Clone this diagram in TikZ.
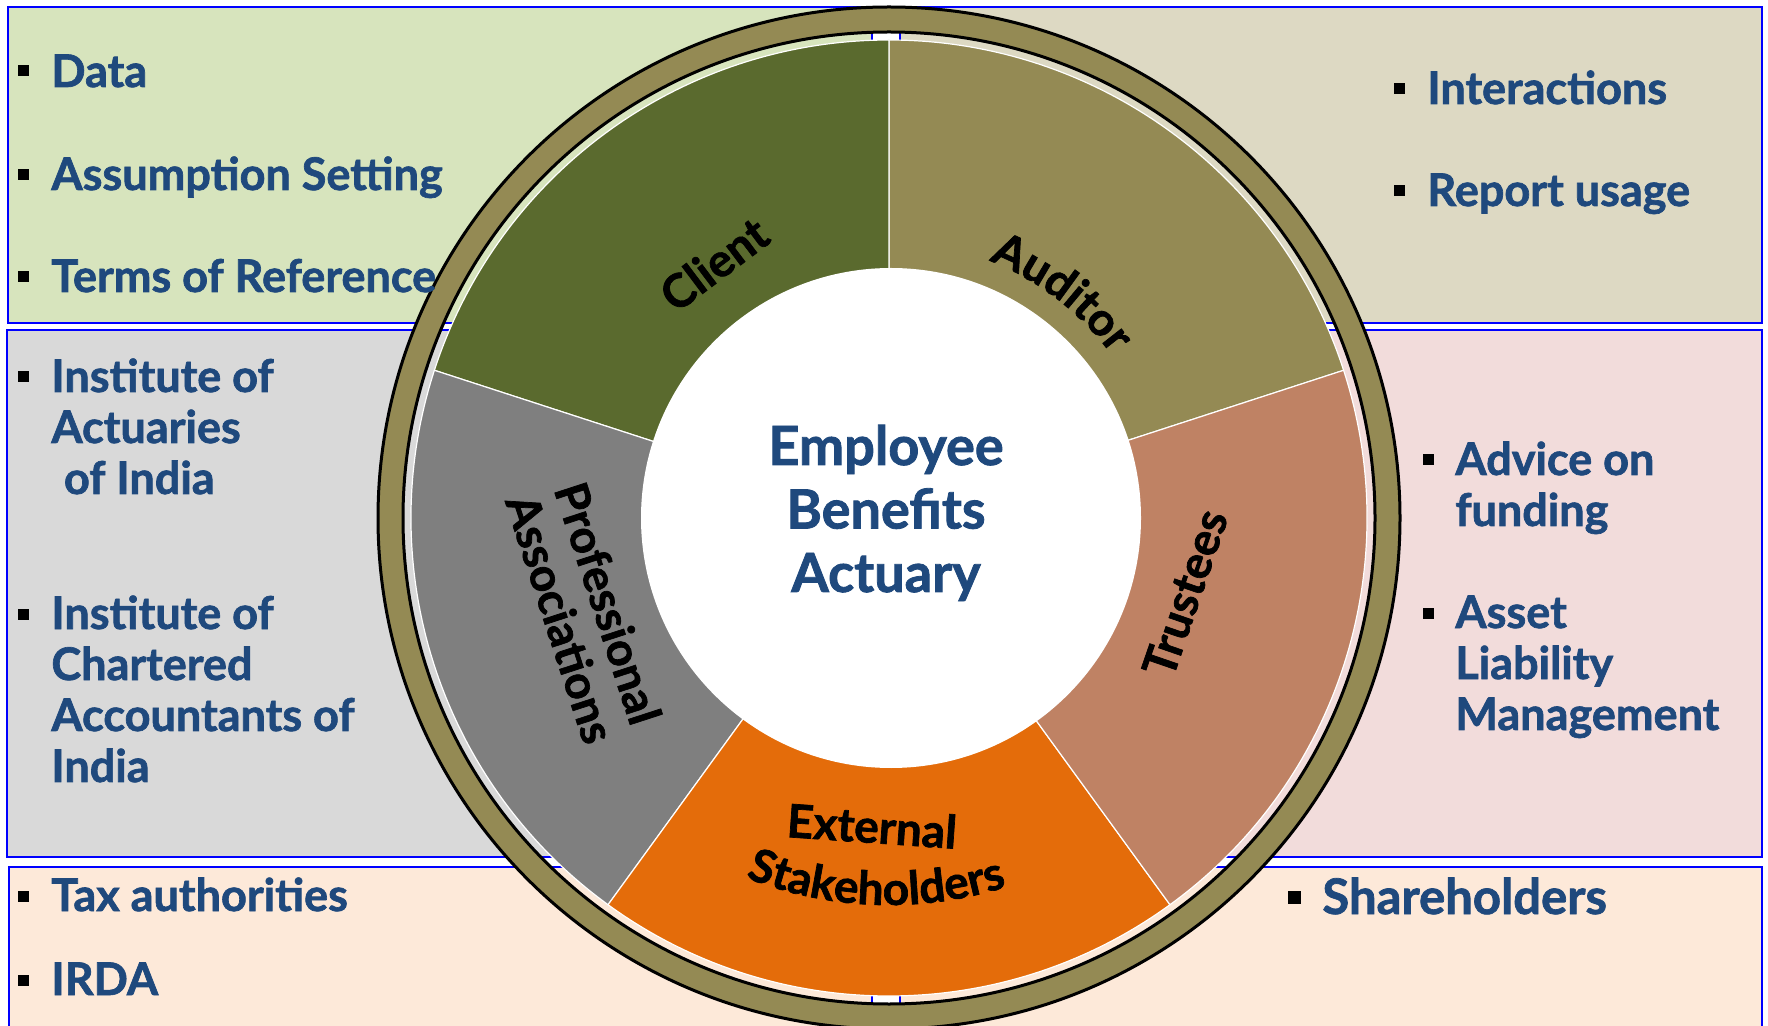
\documentclass[tikz,border=0pt]{standalone}
\usepackage{fontspec}
\setmainfont{Lato}[BoldFeatures={FakeBold=1.5}]
\usetikzlibrary{decorations.text}
\definecolor{bluetxt}{HTML}{1F497D}
\definecolor{boxblue}{HTML}{0000FF}
\definecolor{tlbg}{HTML}{D7E4BD}
\definecolor{trbg}{HTML}{DDD9C3}
\definecolor{mlbg}{HTML}{D9D9D9}
\definecolor{mrbg}{HTML}{F2DCDB}
\definecolor{botbg}{HTML}{FDE9D9}
\definecolor{clientc}{HTML}{5A6A2E}
\definecolor{auditc}{HTML}{948A54}
\definecolor{trustc}{HTML}{BF8264}
\definecolor{extc}{HTML}{E46C0A}
\definecolor{profc}{HTML}{7F7F7F}
\definecolor{ringc}{HTML}{948A54}
\newcommand\stk[2][l]{\begin{tabular}[t]{@{}#1@{}}#2\end{tabular}}
\newcommand\lblfont{\bfseries\fontsize{23}{25}\selectfont}
\begin{document}
\begin{tikzpicture}[x=0.5pt,y=0.5pt,
  box/.style={draw=boxblue, line width=1.2pt},
  sq/.style={fill=black, inner sep=0pt, minimum size=5.5pt, draw=none},
  item/.style={anchor=base west, inner sep=0pt, text=bluetxt, font=\bfseries\fontsize{22.5}{25.5}\selectfont},
  lbl/.style={inner sep=0pt, font=\lblfont, text=black},
  slice/.style={draw=white, line width=0.6pt},
  ringline/.style={draw=black, line width=1.5pt}
]
\clip (0,0) rectangle (1768,-1026);
\fill[white] (0,0) rectangle (1768,-1026);
% background boxes
\filldraw[box, fill=tlbg] (8,-7) rectangle (872,-323);
\filldraw[box, fill=trbg] (900,-7) rectangle (1762,-323);
\filldraw[box, fill=mlbg] (7,-330) rectangle (872,-857);
\filldraw[box, fill=mrbg] (900,-330) rectangle (1762,-857);
\filldraw[box, fill=botbg] (9,-867) rectangle (872,-1060);
\filldraw[box, fill=botbg] (900,-867) rectangle (1762,-1060);
% ring
\coordinate (C) at (889,-518);
\fill[ringc, even odd rule] (C) circle (511) (C) circle (486);
\draw[ringline] (C) circle (511);
\draw[ringline] (C) circle (486);
% slices
\filldraw[slice, fill=auditc] (C) -- ++(18:478) arc (18:90:478) -- cycle;
\filldraw[slice, fill=clientc] (C) -- ++(90:478) arc (90:162:478) -- cycle;
\filldraw[slice, fill=profc] (C) -- ++(162:478) arc (162:234:478) -- cycle;
\filldraw[slice, fill=extc] (C) -- ++(234:478) arc (234:306:478) -- cycle;
\filldraw[slice, fill=trustc] (C) -- ++(306:478) arc (306:378:478) -- cycle;
\fill[white] (891,-518) circle (250);
% centre
\node[anchor=base, inner sep=0pt, text=bluetxt, font=\bfseries\fontsize{27}{31.75}\selectfont] (title) at (886,-465) {\stk[c]{Employee\\Benefits\\Actuary}};
% slice labels
\node[lbl, rotate=37] (client) at (714,-264) {Client};
\path[decorate, decoration={text along path, text align=center, text={|\lblfont|Auditor}}] (C) ++(78:276) arc (78:27:276);
\node[lbl, rotate=71] (trustees) at (1185,-593) {Trustees};
\node[lbl, rotate=-72, align=center] (prof) at (578,-613) {\stk[c]{Professional\\Associations}};
\node[lbl, rotate=-4] (ext) at (872,-826) {External};
\path[decorate, decoration={text along path, text align=center, text={|\lblfont|Stakeholders}}] (C) ++(-122:387) arc (-122:-62:387);
% items top-left
\node[sq] (b1) at (23,-71) {};  \node[item] (t1) at (51,-87) {Data};
\node[sq] (b2) at (23,-175) {}; \node[item] (t2) at (51,-190) {Assumption Setting};
\node[sq] (b3) at (23,-277) {}; \node[item] (t3) at (51,-292) {Terms of Reference};
% items top-right
\node[sq] (b4) at (1399,-89) {};  \node[item] (t4) at (1427,-104) {Interactions};
\node[sq] (b5) at (1399,-191) {}; \node[item] (t5) at (1427,-206) {Report usage};
% items mid-left
\node[sq] (b6) at (23,-377) {}; \node[item] (t6) at (51,-392) {\stk{Institute of\\Actuaries\\\hspace{0.28em}of India}};
\node[sq] (b7) at (23,-614) {}; \node[item] (t7) at (51,-629) {\stk{Institute of\\Chartered\\Accountants of\\India}};
% items mid-right
\node[sq] (b8) at (1428,-460) {}; \node[item] (t8) at (1455,-475) {\stk{Advice on\\funding}};
\node[sq] (b9) at (1428,-613) {}; \node[item] (t9) at (1455,-628) {\stk{Asset\\Liability\\Management}};
% items bottom
\node[sq] (b10) at (23,-896) {}; \node[item] (t10) at (51,-911) {Tax authorities};
\node[sq] (b11) at (23,-980) {}; \node[item] (t11) at (51,-995) {IRDA};
\node[sq, minimum size=6.5pt] (b12) at (1294,-897) {}; \node[item, font=\bfseries\fontsize{24.5}{28}\selectfont] (t12) at (1322,-914) {Shareholders};
\end{tikzpicture}
\end{document}
